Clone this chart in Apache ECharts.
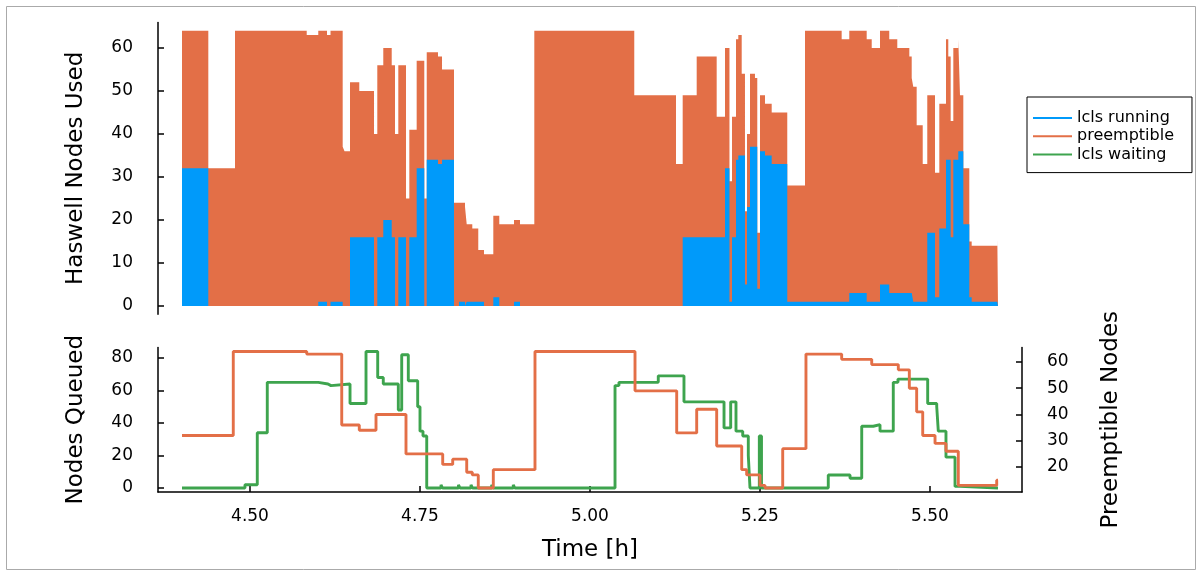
<!DOCTYPE html>
<html><head><meta charset="utf-8">
<script src="https://cdn.jsdelivr.net/npm/echarts@6/dist/echarts.min.js"></script>
<style>html,body{margin:0;padding:0;background:#fff}#c{width:1202px;height:576px}</style>
</head><body><div id="c"></div>
<script>
// ---- top panel: steps (value holds until next time); preemptible stacked on lcls running ----
const topTimes = [4.4000,4.4387,4.4779,4.5834,4.6004,4.6132,4.6184,4.6363,4.6390,4.6471,4.6607,4.6824,4.6872,4.6960,4.7084,4.7132,4.7181,4.7294,4.7343,4.7451,4.7563,4.7599,4.7765,4.7824,4.8000,4.8074,4.8162,4.8187,4.8269,4.8357,4.8441,4.8578,4.8666,4.8882,4.8971,4.9181,5.0651,5.1265,5.1363,5.1569,5.1863,5.1985,5.2051,5.2088,5.2147,5.2181,5.2231,5.2279,5.2309,5.2353,5.2426,5.2460,5.2500,5.2574,5.2672,5.2901,5.3162,5.3701,5.3813,5.4069,5.4143,5.4265,5.4401,5.4519,5.4696,5.4731,5.4754,5.4804,5.4893,5.4960,5.5074,5.5137,5.5235,5.5269,5.5304,5.5343,5.5416,5.5441,5.5490,5.5578,5.5613,5.5990,5.6000];
const lclsRunning = [32,0,0,0,1,0,1,0,0,16,16,0,16,20,16,0,16,0,16,32,0,34,33,34,0,1,0,1,1,1,0,2,0,1,0,0,0,0,16,16,16,32,1,16,34,35,35,5,23,37,37,4,36,35,33,1,1,1,3,1,1,5,3,3,3,3,1,1,1,17,2,18,34,34,16,34,36,36,19,2,1,1,1];
const preemptibleTop = [32,32,64,63,63,63,63,37,36,36,34,40,40,40,40,40,40,25,25,25,25,25,25,21,24,23,23,18,17,12,12,19,19,19,19,64,49,33,33,42,28,28,28,28,28,28,19,17,17,17,16,13,13,12,12,27,63,61,61,61,59,59,59,57,55,50,50,41,32,32,29,29,28,24,27,26,26,13,13,13,13,15,15];

// ---- bottom panel ----
const preTimes = [4.4000,4.4754,4.5834,4.6349,4.6607,4.6853,4.7294,4.7834,4.7981,4.8187,4.8269,4.8357,4.8578,4.9191,5.0662,5.1275,5.1569,5.1863,5.2231,5.2304,5.2500,5.2574,5.2834,5.3176,5.3701,5.4143,5.4534,5.4696,5.4804,5.4893,5.5074,5.5235,5.5416,5.5981,5.6000];
const preemptible = [32,64,63,36,34,40,25,21,23,18,17,12,19,64,49,33,42,28,19,17,13,12,27,63,61,59,57,50,41,32,29,26,13,15,15];
const waitTimes = [4.4000,4.4926,4.5107,4.5254,4.6004,4.6147,4.6191,4.6471,4.6706,4.6878,4.6960,4.7181,4.7231,4.7328,4.7466,4.7500,4.7544,4.7599,4.7809,4.7831,4.8066,4.8088,4.8250,4.8272,4.8554,4.8576,4.8872,4.8894,5.0368,5.0426,5.1004,5.1382,5.1971,5.2069,5.2147,5.2246,5.2328,5.2353,5.2490,5.2522,5.3504,5.3824,5.3996,5.4166,5.4265,5.4460,5.4529,5.4966,5.5099,5.5122,5.5235,5.5368,5.5441,5.6000];
const lclsWaiting = [0,2,34,65,64,63,64,52,84,68,64,48,82,66,50,35,32,0,2,0,2,0,2,0,2,0,2,0,63,65,69,53,37,53,35,32,20,0,32,0,8,6,38,39,35,65,67,52,50,35,19,1,0,0];

// ---- tick labels ----
const xTicks = [4.50,4.75,5.00,5.25,5.50];
const topYTicks = [0,10,20,30,40,50,60];
const queuedTicks = [0,20,40,60,80];
const preemptTicks = [20,30,40,50,60];

const zip = (t, v) => t.map((x, i) => [x, v[i]]);
// stacked top of the preemptible band
const stackedTop = lclsRunning.map((r, i) => r + preemptibleTop[i]);

const FONT = 'DejaVu Sans';
const C_BLUE = '#009AFA', C_ORANGE = '#E36F47', C_GREEN = '#3EA44E';

const axisLineStyle = {color: '#000', width: 1.5};
function yAx(grid, min, max, ticks, name, pos, extra) {
  return Object.assign({
    type: 'value', gridIndex: grid, position: pos, min: min, max: max,
    axisLine: {show: true, onZero: false, lineStyle: axisLineStyle},
    axisTick: {show: true, inside: true, length: 6, customValues: ticks, lineStyle: axisLineStyle},
    axisLabel: {customValues: ticks, margin: 25, fontSize: 17, fontFamily: FONT, color: '#000'},
    splitLine: {show: false},
    name: name, nameLocation: 'middle', nameRotate: 90, nameGap: 70,
    nameTextStyle: {fontSize: 23, fontFamily: FONT, color: '#000'}
  }, extra || {});
}

const chart = echarts.init(document.getElementById('c'), null, {renderer: 'canvas'});
chart.setOption({
  animation: false,
  backgroundColor: '#fff',
  graphic: [{type: 'rect', shape: {x: 6.5, y: 6.5, width: 1189, height: 563}, style: {fill: 'none', stroke: '#aaa', lineWidth: 1}, silent: true, z: -1}],
  grid: [
    {left: 158, right: 180, top: 22.5, height: 291.7},
    {left: 158, right: 180, top: 347.4, height: 144.7}
  ],
  xAxis: [
    {type: 'value', gridIndex: 0, min: 4.3647, max: 5.6353, show: false},
    {type: 'value', gridIndex: 1, min: 4.3647, max: 5.6353,
     axisLine: {show: true, onZero: false, lineStyle: axisLineStyle},
     axisTick: {show: true, inside: true, length: 6, customValues: xTicks, lineStyle: axisLineStyle},
     axisLabel: {customValues: xTicks, margin: 16, fontSize: 17, fontFamily: FONT, color: '#000', formatter: v => v.toFixed(2)},
     splitLine: {show: false},
     name: 'Time [h]', nameLocation: 'middle', nameGap: 46,
     nameTextStyle: {fontSize: 23, fontFamily: FONT, color: '#000'}}
  ],
  yAxis: [
    yAx(0, -1.92, 65.92, topYTicks, 'Haswell Nodes Used', 'left'),
    yAx(1, -2.52, 86.52, queuedTicks, 'Nodes Queued', 'left'),
    yAx(1, 10.44, 65.56, preemptTicks, 'Preemptible Nodes', 'right', {nameGap: 78})
  ],
  legend: {
    data: ['lcls running', 'preemptible', 'lcls waiting'],
    orient: 'vertical', left: 1027, top: 97,
    icon: 'rect', itemWidth: 39, itemHeight: 2, itemGap: 2.3,
    padding: [13, 18, 10, 6],
    borderColor: '#000', borderWidth: 1, backgroundColor: '#fff',
    textStyle: {fontSize: 16, fontFamily: FONT, color: '#000'}
  },
  series: [
    {name: 'preemptible', type: 'line', xAxisIndex: 0, yAxisIndex: 0, step: 'end', z: 2,
     data: zip(topTimes, stackedTop), color: C_ORANGE, symbol: 'none', lineStyle: {width: 0},
     areaStyle: {color: C_ORANGE, opacity: 1}},
    {name: 'lcls running', type: 'line', xAxisIndex: 0, yAxisIndex: 0, step: 'end', z: 3,
     data: zip(topTimes, lclsRunning), color: C_BLUE, symbol: 'none', lineStyle: {width: 0},
     areaStyle: {color: C_BLUE, opacity: 1}},
    {name: 'lcls waiting', type: 'line', xAxisIndex: 1, yAxisIndex: 1, step: 'end', z: 2,
     data: zip(waitTimes, lclsWaiting), color: C_GREEN, symbol: 'none', lineStyle: {width: 2.9, color: C_GREEN}},
    {name: 'preemptible', type: 'line', xAxisIndex: 1, yAxisIndex: 2, step: 'end', z: 3,
     data: zip(preTimes, preemptible), color: C_ORANGE, symbol: 'none', lineStyle: {width: 2.9, color: C_ORANGE}}
  ]
});
</script></body></html>
